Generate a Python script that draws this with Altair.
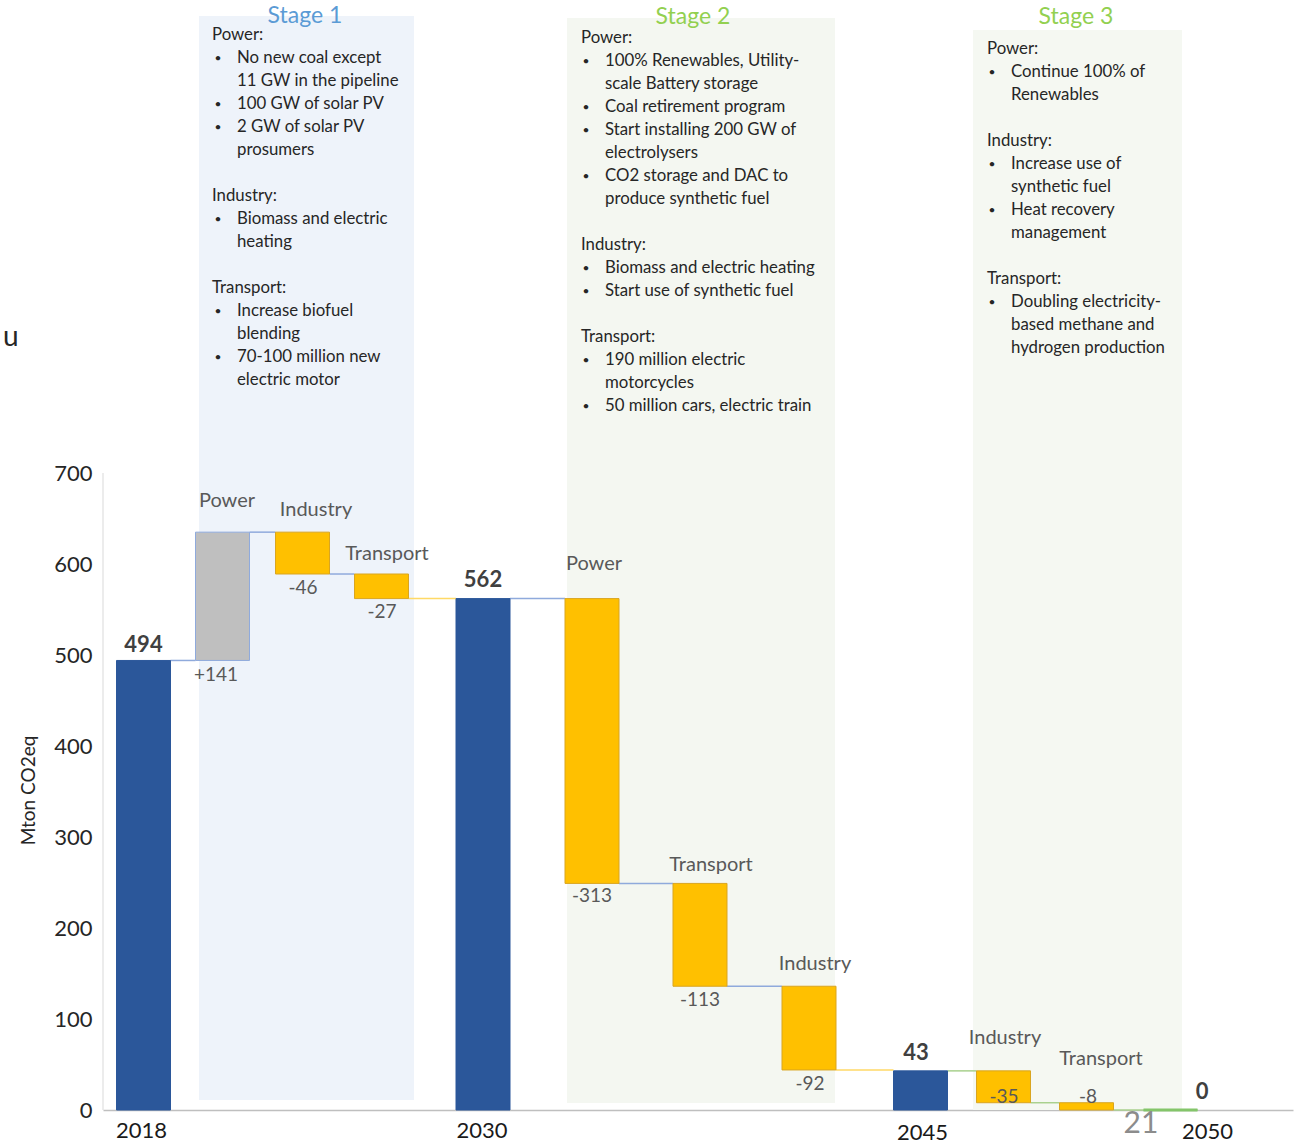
import altair as alt
import pandas as pd

# ---------------- data ----------------
bar_names = ["2018", "Power", "Industry", "Transport", "2030", "Power", "Transport",
             "Industry", "2045", "Industry", "Transport", "2050"]
bar_values = [494, 141, -46, -27, 562, -313, -113, -92, 43, -35, -8, 0]
bar_kinds = ["total", "step", "step", "step", "total", "step", "step", "step",
             "total", "step", "step", "total"]
y_ticks = [0, 100, 200, 300, 400, 500, 600, 700]
y_title = "Mton CO2eq"

stage_titles = ["Stage 1", "Stage 2", "Stage 3"]
stage1_lines = [
    ("h", "Power:"), ("b", "No new coal except"), ("c", "11 GW in the pipeline"),
    ("b", "100 GW of solar PV"), ("b", "2 GW of solar PV"), ("c", "prosumers"),
    ("", ""), ("h", "Industry:"), ("b", "Biomass and electric"), ("c", "heating"),
    ("", ""), ("h", "Transport:"), ("b", "Increase biofuel"), ("c", "blending"),
    ("b", "70-100 million new"), ("c", "electric motor"),
]
stage2_lines = [
    ("h", "Power:"), ("b", "100% Renewables, Utility-"), ("c", "scale Battery storage"),
    ("b", "Coal retirement program"), ("b", "Start installing 200 GW of"),
    ("c", "electrolysers"), ("b", "CO2 storage and DAC to"), ("c", "produce synthetic fuel"),
    ("", ""), ("h", "Industry:"), ("b", "Biomass and electric heating"),
    ("b", "Start use of synthetic fuel"), ("", ""), ("h", "Transport:"),
    ("b", "190 million electric"), ("c", "motorcycles"),
    ("b", "50 million cars, electric train"),
]
stage3_lines = [
    ("h", "Power:"), ("b", "Continue 100% of"), ("c", "Renewables"), ("", ""),
    ("h", "Industry:"), ("b", "Increase use of"), ("c", "synthetic fuel"),
    ("b", "Heat recovery"), ("c", "management"), ("", ""), ("h", "Transport:"),
    ("b", "Doubling electricity-"), ("c", "based methane and"),
    ("c", "hydrogen production"),
]
stray_text = "u"
page_number = "21"

# ---------------- layout / style ----------------
LEFT, RIGHT, TOP, BOTTOM = 103, 5, 0, 34
W, H = 1190, 1110
YMAX = 700 * H / 637.0


def xd(px):
    return px - LEFT


def yd(py):
    return (H - py) * YMAX / H


FONT = "Lato"
bar_center_px = [143.5, 222.5, 302.5, 381.5, 483, 592, 700, 809, 920.5, 1003.5, 1086.5, 1170.5]
BAR_W = 54
BLUE, GRAY, YELLOW, GREEN = "#2B579A", "#BFBFBF", "#FFC000", "#84C56A"
LINE_BLUE, LINE_YEL, LINE_GRN = "#8FAADC", "#FFD966", "#A9D18E"
connector_colors = [LINE_BLUE, LINE_BLUE, LINE_BLUE, LINE_YEL, LINE_BLUE, LINE_BLUE,
                    LINE_BLUE, LINE_YEL, LINE_GRN, LINE_GRN, LINE_GRN]
# label offsets in pixels (dx, dy)
name_offsets = {1: (4.5, -31), 2: (13.5, -22), 3: (5.5, -20), 5: (2, -35), 6: (11, -18),
                7: (6, -22), 9: (1.5, -33), 10: (14.5, -44)}
value_offsets = [(0, -15.5), (-6.5, 14.5), (0.5, 14), (0.5, 13.5), (0, -19), (0, 13),
                 (0, 14), (1, 14), (-4.5, -18), (0.5, -6), (1.5, -13), (31.5, -18)]
year_offsets = {0: (-2, 21), 4: (-1, 21), 8: (2, 23), 11: (37, 22)}

# ---------------- build tables ----------------
rows = []
running = 0
for i, (n, v, k) in enumerate(zip(bar_names, bar_values, bar_kinds)):
    if k == "total":
        start, end = 0, v
        fill = GREEN if i == len(bar_names) - 1 else BLUE
        stroke = fill
        vlabel = str(v)
    else:
        start, end = running, running + v
        fill = GRAY if v > 0 else YELLOW
        stroke = "#8FAADC" if v > 0 else "#D9A520"
        vlabel = ("+" if v > 0 else "") + str(v)
    running = end
    cx = xd(bar_center_px[i])
    rows.append(dict(name=n, kind=k, start=start, end=end, top=max(start, end),
                     bottom=min(start, end), cx=cx, x0=cx - BAR_W / 2, x1=cx + BAR_W / 2,
                     fill=fill, stroke=stroke, vlabel=vlabel))
bars = pd.DataFrame(rows)

conn = []
for i in range(len(rows) - 1):
    conn.append(dict(x0=rows[i]["x1"], x1=rows[i + 1]["x0"], y=rows[i]["end"],
                     c=connector_colors[i]))
conn = pd.DataFrame(conn)

xs = alt.Scale(domain=[0, W], nice=False, zero=False)
ys = alt.Scale(domain=[0, YMAX], nice=False, zero=False)
x_axis = alt.Axis(labels=False, ticks=False, grid=False, domainColor="#BFBFBF",
                  domainWidth=1.5, title=None)
y_axis = alt.Axis(values=y_ticks, domain=False, ticks=False, grid=False, labelFontSize=22,
                  labelFont=FONT, labelColor="#262626", labelPadding=11, title=y_title,
                  titleFont=FONT, titleFontSize=19, titleFontWeight="normal",
                  titleColor="#262626", titleAngle=270, titleX=-75, titleY=790,
                  titleAlign="center", titleBaseline="middle")


def X(f):
    return alt.X(f + ":Q", scale=xs, axis=x_axis)


def Y(f):
    return alt.Y(f + ":Q", scale=ys, axis=y_axis)


layers = []

# stage backgrounds
stage_bg = pd.DataFrame(dict(
    x0=[xd(199), xd(567), xd(973)], x1=[xd(414), xd(835), xd(1182)],
    y0=[yd(1100), yd(1103), yd(1110)], y1=[yd(16), yd(18), yd(30)],
    c=["#EEF3FA", "#F4F7F1", "#F5F8F2"]))
layers.append(alt.Chart(stage_bg).mark_rect().encode(
    x=X("x0"), x2="x1", y=Y("y0"), y2="y1", fill=alt.Fill("c:N", scale=None)))

# y axis line
layers.append(alt.Chart(pd.DataFrame(dict(x=[0], y=[0], y2=[700]))).mark_rule(
    color="#D9D9D9", strokeWidth=1).encode(x=X("x"), y=Y("y"), y2="y2"))

# connectors
layers.append(alt.Chart(conn).mark_rule(strokeWidth=1.5).encode(
    x=X("x0"), x2="x1", y=Y("y"), color=alt.Color("c:N", scale=None)))

# bars
layers.append(alt.Chart(bars).mark_rect(strokeWidth=1).encode(
    x=X("x0"), x2="x1", y=Y("start"), y2="end",
    fill=alt.Fill("fill:N", scale=None), stroke=alt.Stroke("stroke:N", scale=None)))
layers.append(alt.Chart(bars[bars["name"] == "2050"]).mark_rule(
    color=GREEN, strokeWidth=3).encode(x=X("x0"), x2="x1", y=Y("start")))

# labels
for i, r in bars.iterrows():
    one = pd.DataFrame([r])
    dx, dy = value_offsets[i]
    if r["kind"] == "total":
        layers.append(alt.Chart(one).mark_text(
            font=FONT, fontSize=22, fontWeight="bold", color="#404040",
            baseline="middle", dx=dx, dy=dy).encode(x=X("cx"), y=Y("top"), text="vlabel:N"))
        ydx, ydy = year_offsets[i]
        layers.append(alt.Chart(one).mark_text(
            font=FONT, fontSize=22, color="#1A1A1A", baseline="middle",
            dx=ydx, dy=ydy).encode(x=X("cx"), y=Y("bottom"), text="name:N"))
    else:
        layers.append(alt.Chart(one).mark_text(
            font=FONT, fontSize=19, color="#595959", baseline="middle",
            dx=dx, dy=dy).encode(x=X("cx"), y=Y("bottom"), text="vlabel:N"))
        ndx, ndy = name_offsets[i]
        layers.append(alt.Chart(one).mark_text(
            font=FONT, fontSize=20, color="#595959", baseline="middle",
            dx=ndx, dy=ndy).encode(x=X("cx"), y=Y("top"), text="name:N"))

# stage text blocks
blocks = [(stage1_lines, 212, 218, 237, 35), (stage2_lines, 581, 586, 605, 38),
          (stage3_lines, 987, 992, 1011, 49)]
trows, brows = [], []
for lines, hx, bx, tx, y0 in blocks:
    for j, (kind, txt) in enumerate(lines):
        py = y0 + j * 23
        if kind == "h":
            trows.append(dict(x=xd(hx), y=yd(py), t=txt))
        elif kind == "b":
            brows.append(dict(x=xd(bx), y=yd(py), t="•"))
            trows.append(dict(x=xd(tx), y=yd(py), t=txt))
        elif kind == "c":
            trows.append(dict(x=xd(tx), y=yd(py), t=txt))
tdf = pd.DataFrame(trows)
bdf = pd.DataFrame(brows)
layers.append(alt.Chart(tdf).mark_text(
    font=FONT, fontSize=16.8, color="#262626", align="left", baseline="middle").encode(
    x=X("x"), y=Y("y"), text="t:N"))
layers.append(alt.Chart(bdf).mark_text(
    font=FONT, fontSize=12, color="#262626", align="center", baseline="middle").encode(
    x=X("x"), y=Y("y"), text="t:N"))

# stage titles
st = pd.DataFrame(dict(x=[xd(305), xd(693), xd(1076)], y=[yd(16), yd(17), yd(17)],
                       t=stage_titles, c=["#5B9BD5", "#92D050", "#92D050"]))
layers.append(alt.Chart(st).mark_text(font=FONT, fontSize=23, baseline="middle").encode(
    x=X("x"), y=Y("y"), text="t:N", color=alt.Color("c:N", scale=None)))

# stray fragments
misc = pd.DataFrame(dict(x=[xd(3)], y=[yd(338)], t=[stray_text]))
layers.append(alt.Chart(misc).mark_text(
    font=FONT, fontSize=28, color="#262626", align="left", baseline="middle").encode(
    x=X("x"), y=Y("y"), text="t:N"))
pn = pd.DataFrame(dict(x=[xd(1141)], y=[yd(1124)], t=[page_number]))
layers.append(alt.Chart(pn).mark_text(
    font=FONT, fontSize=30, color="#8C8C8C", baseline="middle").encode(
    x=X("x"), y=Y("y"), text="t:N"))

chart = alt.layer(*layers).properties(
    width=W, height=H,
    autosize=alt.AutoSizeParams(type="none"),
    padding={"left": LEFT, "right": RIGHT, "top": TOP, "bottom": BOTTOM},
    background="white",
).configure_view(stroke=None)

chart.save("out.html", embed_options={"renderer": "svg", "actions": False})
